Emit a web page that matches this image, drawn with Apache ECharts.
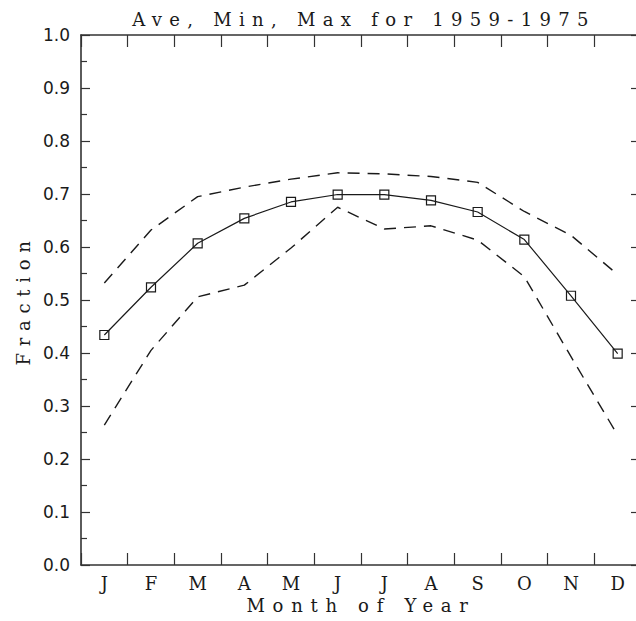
<!DOCTYPE html>
<html>
<head>
<meta charset="utf-8">
<script src="https://cdn.jsdelivr.net/npm/echarts@6/dist/echarts.min.js"></script>
<style>
  html, body { margin: 0; padding: 0; background: #fff; }
  #chart { width: 636px; height: 621px; }
</style>
</head>
<body>
<div id="chart"></div>
<script>
// Monthly fraction statistics, 1959-1975
const months = ['J', 'F', 'M', 'A', 'M', 'J', 'J', 'A', 'S', 'O', 'N', 'D'];
const aveValues = [0.434, 0.524, 0.607, 0.654, 0.685, 0.699, 0.699, 0.688, 0.666, 0.614, 0.508, 0.399];
const maxValues = [0.532, 0.632, 0.695, 0.713, 0.728, 0.740, 0.738, 0.733, 0.722, 0.667, 0.622, 0.548];
const minValues = [0.264, 0.405, 0.506, 0.528, 0.598, 0.675, 0.634, 0.640, 0.613, 0.544, 0.393, 0.245];
const yTicks = [0, 0.1, 0.2, 0.3, 0.4, 0.5, 0.6, 0.7, 0.8, 0.9, 1.0];

const titleText = 'Ave, Min, Max for 1959-1975';
const xName = 'Month of Year';
const yName = 'Fraction';

const ink = '#1a1a1a';
const frame = { show: true, onZero: false, lineStyle: { color: '#333', width: 1.6 } };
const tickLine = { color: '#333', width: 1.2 };
const serif = 'DejaVu Serif';

// Tick-only frame edge along the top or bottom of the plot
function monthFrame(position) {
  return {
    type: 'category',
    data: months,
    position: position,
    boundaryGap: true,
    axisLine: frame,
    axisTick: { show: true, inside: true, length: 12, interval: 0, lineStyle: tickLine },
    axisLabel: { show: false },
    splitLine: { show: false }
  };
}

const chart = echarts.init(document.getElementById('chart'), null, { renderer: 'svg' });

chart.setOption({
  animation: false,
  backgroundColor: '#fff',
  title: {
    text: titleText,
    left: 359,
    top: 5,
    textAlign: 'center',
    textStyle: { fontFamily: serif, fontSize: 18, fontWeight: 'normal', color: ink }
  },
  // The plot frame runs slightly past the right edge of the canvas
  grid: { left: 81, top: 35, width: 560, height: 530, containLabel: false, outerBoundsMode: 'none' },
  xAxis: [
    {
      type: 'category',
      data: months,
      position: 'bottom',
      boundaryGap: true,
      axisLine: { show: false, onZero: false },
      axisTick: { show: false },
      axisLabel: { interval: 0, margin: 9, fontFamily: serif, fontSize: 18, color: ink },
      splitLine: { show: false },
      name: xName,
      nameLocation: 'middle',
      nameGap: 30,
      nameTextStyle: { fontFamily: serif, fontSize: 18, color: ink }
    },
    monthFrame('bottom'),
    monthFrame('top')
  ],
  yAxis: [
    {
      type: 'value',
      min: yTicks[0],
      max: yTicks[yTicks.length - 1],
      interval: 0.1,
      position: 'left',
      axisLine: frame,
      axisTick: { show: true, inside: true, length: 9, lineStyle: tickLine },
      minorTick: { show: true, splitNumber: 2, length: 6, lineStyle: tickLine },
      axisLabel: {
        margin: 11,
        fontFamily: 'DejaVu Sans',
        fontSize: 17,
        color: ink,
        formatter: v => v.toFixed(1)
      },
      splitLine: { show: false },
      name: yName,
      nameLocation: 'middle',
      nameGap: 47,
      nameRotate: 90,
      nameTextStyle: { fontFamily: serif, fontSize: 18, color: ink }
    },
    {
      type: 'value',
      min: yTicks[0],
      max: yTicks[yTicks.length - 1],
      interval: 0.1,
      position: 'right',
      axisLine: frame,
      axisTick: { show: true, inside: true, length: 10, lineStyle: tickLine },
      axisLabel: { show: false },
      splitLine: { show: false }
    }
  ],
  series: [
    {
      name: 'Max',
      type: 'line',
      data: maxValues,
      symbol: 'none',
      lineStyle: { color: ink, width: 1.4, type: [12, 8] },
      silent: true
    },
    {
      name: 'Min',
      type: 'line',
      data: minValues,
      symbol: 'none',
      lineStyle: { color: ink, width: 1.4, type: [12, 8] },
      silent: true
    },
    {
      name: 'Ave',
      type: 'line',
      data: aveValues,
      symbol: 'rect',
      symbolSize: 9,
      itemStyle: { color: 'rgba(0,0,0,0)', borderColor: ink, borderWidth: 1.2 },
      lineStyle: { color: ink, width: 1.2 },
      silent: true
    }
  ]
});

// Typewriter-style spacing for the title and the axis names
function spaceLetters() {
  const spacing = new Map([[titleText, '7.3px'], [xName, '7.7px'], [yName, '6.7px']]);
  document.querySelectorAll('#chart svg text').forEach(t => {
    const s = spacing.get(t.textContent);
    if (s) t.style.letterSpacing = s;
  });
}
spaceLetters();
chart.on('finished', spaceLetters);
</script>
</body>
</html>
